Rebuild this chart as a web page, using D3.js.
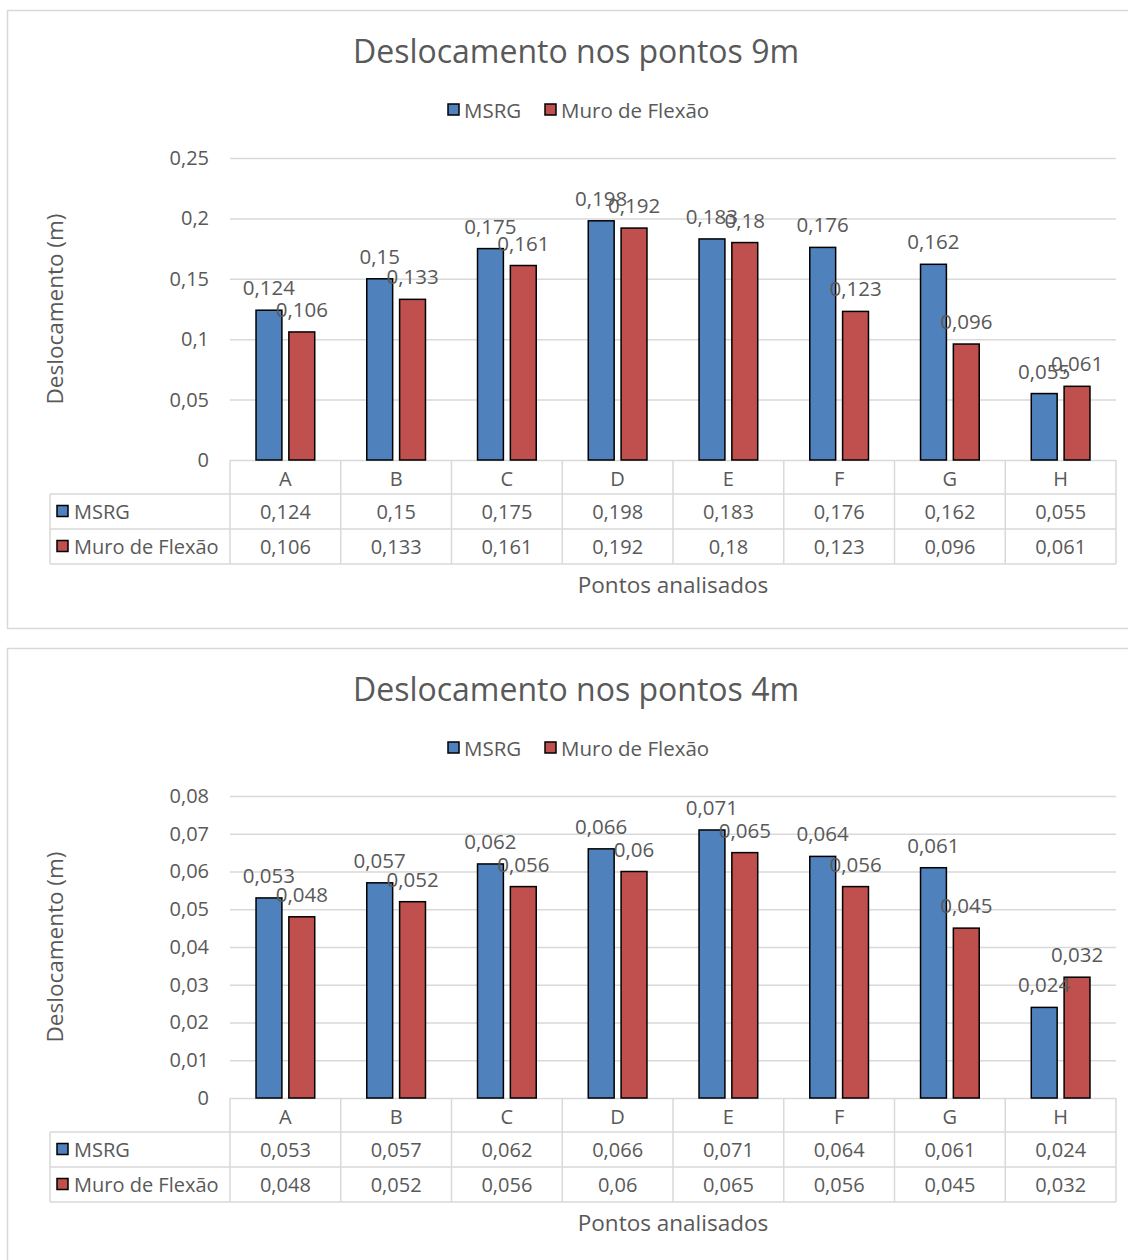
<!DOCTYPE html>
<html>
<head>
<meta charset="utf-8">
<script src="https://cdn.jsdelivr.net/npm/d3@7"></script>
<style>
  html, body { margin: 0; padding: 0; background: #fff; }
  svg { display: block; }
  text { font-family: "Open Sans", Roboto, sans-serif; font-weight: 400; fill: #595959; }
</style>
</head>
<body>
<script>
// ---- Data ----
const categories = ["A", "B", "C", "D", "E", "F", "G", "H"];
const seriesNames = ["MSRG", "Muro de Flexão"];
const seriesColors = ["#4F81BD", "#C0504D"];

const title9 = "Deslocamento nos pontos 9m";
const msrg9 = [0.124, 0.15, 0.175, 0.198, 0.183, 0.176, 0.162, 0.055];
const muro9 = [0.106, 0.133, 0.161, 0.192, 0.18, 0.123, 0.096, 0.061];
const ticks9 = [0, 0.05, 0.1, 0.15, 0.2, 0.25];

const title4 = "Deslocamento nos pontos 4m";
const msrg4 = [0.053, 0.057, 0.062, 0.066, 0.071, 0.064, 0.061, 0.024];
const muro4 = [0.048, 0.052, 0.056, 0.06, 0.065, 0.056, 0.045, 0.032];
const ticks4 = [0, 0.01, 0.02, 0.03, 0.04, 0.05, 0.06, 0.07, 0.08];

const yTitle = "Deslocamento (m)";
const xTitle = "Pontos analisados";

// ---- Drawing ----
const W = 1128, H = 1260;
const svg = d3.select("body").append("svg").attr("width", W).attr("height", H);

const fmt = v => String(+v.toFixed(4)).replace(".", ",");

function drawChart(top, title, values, ticks) {
  const g = svg.append("g").attr("transform", `translate(0,${top})`);
  g.append("rect").attr("x", 7.5).attr("y", 0.5).attr("width", 1140).attr("height", 618)
    .attr("fill", "#fff").attr("stroke", "#d9d9d9").attr("stroke-width", 1.5);

  const plotL = 230, plotR = 1116, plotT = 148, plotB = 450;
  const x0 = d3.scaleBand().domain(categories).range([plotL, plotR]).padding(0);
  const cw = x0.bandwidth();
  const x1 = d3.scaleBand().domain(seriesNames).range([cw * 0.235, cw * 0.765]).paddingInner(0.212);
  const y = d3.scaleLinear().domain([ticks[0], ticks[ticks.length - 1]]).range([plotB, plotT]);

  g.append("text").attr("x", 576).attr("y", 40).attr("text-anchor", "middle")
    .attr("dominant-baseline", "central").style("font-size", "32px").text(title);

  const leg = g.append("g");
  const legItems = [{x: 448, name: seriesNames[0], c: seriesColors[0]}, {x: 545, name: seriesNames[1], c: seriesColors[1]}];
  legItems.forEach(d => {
    leg.append("rect").attr("x", d.x).attr("y", 94).attr("width", 11).attr("height", 11)
      .attr("fill", d.c).attr("stroke", "#000").attr("stroke-width", 1.5);
    leg.append("text").attr("x", d.x + 16).attr("y", 100).attr("dominant-baseline", "central")
      .style("font-size", "20.5px").text(d.name);
  });

  const yAxis = d3.axisLeft(y).tickValues(ticks).tickSize(-(plotR - plotL)).tickFormat(fmt).tickPadding(21);
  const ga = g.append("g").attr("transform", `translate(${plotL},0)`).call(yAxis);
  ga.select(".domain").remove();
  ga.selectAll(".tick line").attr("stroke", "#d9d9d9").attr("stroke-width", 1.5);
  ga.selectAll(".tick text").style("font-size", "20px").attr("fill", "#595959")
    .style("font-family", "'Open Sans', Roboto, sans-serif");

  const seriesVals = [values[0], values[1]];
  seriesNames.forEach((s, si) => {
    g.append("g").selectAll("rect").data(categories).enter().append("rect")
      .attr("x", (c) => x0(c) + x1(s))
      .attr("y", (c, i) => y(seriesVals[si][i]))
      .attr("width", x1.bandwidth())
      .attr("height", (c, i) => y(0) - y(seriesVals[si][i]))
      .attr("fill", seriesColors[si]).attr("stroke", "#000").attr("stroke-width", 1.5);
  });
  seriesNames.forEach((s, si) => {
    g.append("g").selectAll("text").data(categories).enter().append("text")
      .attr("x", (c) => x0(c) + x1(s) + x1.bandwidth() / 2)
      .attr("y", (c, i) => y(seriesVals[si][i]) - 15)
      .attr("text-anchor", "middle").style("font-size", "20.5px")
      .text((c, i) => fmt(seriesVals[si][i]));
  });

  const rowH = [34, 35, 35];
  const tT = plotB, r1 = tT + rowH[0], r2 = r1 + rowH[1], r3 = r2 + rowH[2];
  const tL = 50;
  const tg = g.append("g").attr("stroke", "#d9d9d9").attr("stroke-width", 1.5);
  tg.append("line").attr("x1", tL).attr("x2", plotR).attr("y1", r1).attr("y2", r1);
  tg.append("line").attr("x1", tL).attr("x2", plotR).attr("y1", r2).attr("y2", r2);
  tg.append("line").attr("x1", tL).attr("x2", plotR).attr("y1", r3).attr("y2", r3);
  tg.append("line").attr("x1", tL).attr("x2", tL).attr("y1", r1).attr("y2", r3);
  const bounds = categories.map(c => x0(c)).concat([plotR]);
  tg.selectAll("line.v").data(bounds).enter().append("line").attr("class", "v")
    .attr("x1", d => d).attr("x2", d => d).attr("y1", tT).attr("y2", r3);

  g.append("g").selectAll("text").data(categories).enter().append("text")
    .attr("x", c => x0(c) + cw / 2).attr("y", tT + rowH[0] / 2 + 1)
    .attr("text-anchor", "middle").attr("dominant-baseline", "central")
    .style("font-size", "20px").text(c => c);
  const rowMid = [r1 + rowH[1] / 2, r2 + rowH[2] / 2];
  seriesNames.forEach((s, si) => {
    g.append("rect").attr("x", 57).attr("y", rowMid[si] - 6).attr("width", 11).attr("height", 11)
      .attr("fill", seriesColors[si]).attr("stroke", "#000").attr("stroke-width", 1.5);
    g.append("text").attr("x", 74).attr("y", rowMid[si]).attr("dominant-baseline", "central")
      .style("font-size", "20px").text(s);
    g.append("g").selectAll("text").data(categories).enter().append("text")
      .attr("x", c => x0(c) + cw / 2).attr("y", rowMid[si])
      .attr("text-anchor", "middle").attr("dominant-baseline", "central")
      .style("font-size", "20px").text((c, i) => fmt(seriesVals[si][i]));
  });

  g.append("text").attr("x", (plotL + plotR) / 2).attr("y", 574).attr("text-anchor", "middle")
    .attr("dominant-baseline", "central").style("font-size", "22.5px").text(xTitle);
  g.append("text").attr("transform", `translate(54,${(plotT + plotB) / 2}) rotate(-90)`)
    .attr("text-anchor", "middle").attr("dominant-baseline", "central")
    .style("font-size", "22.5px").text(yTitle);
}

drawChart(10, title9, [msrg9, muro9], ticks9);
drawChart(648, title4, [msrg4, muro4], ticks4);
</script>
</body>
</html>
